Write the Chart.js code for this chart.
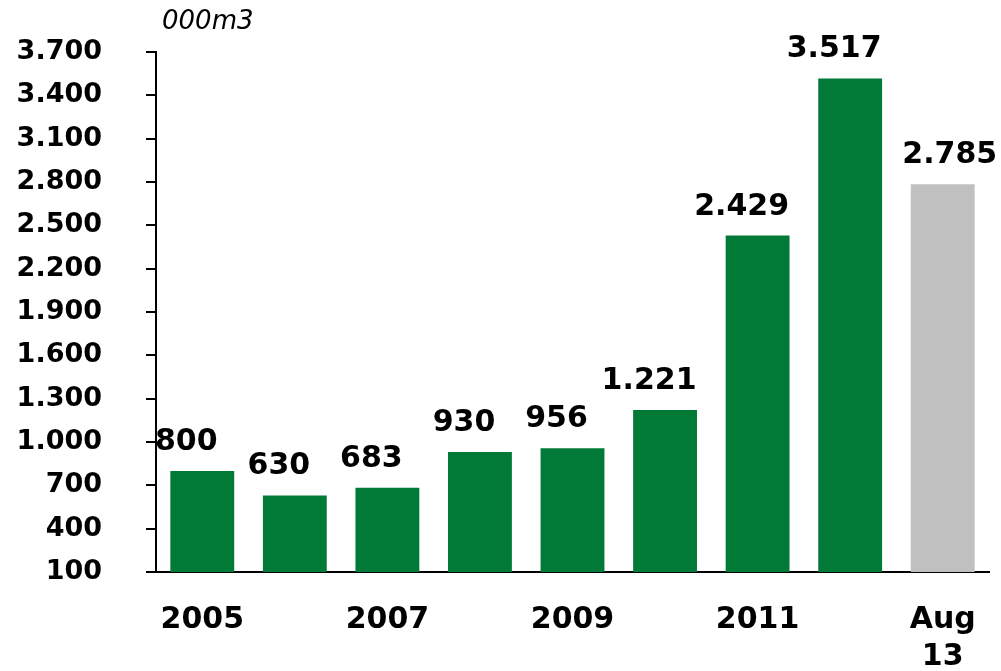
<!DOCTYPE html>
<html>
<head>
<meta charset="utf-8">
<script src="https://cdn.jsdelivr.net/npm/chart.js@4/dist/chart.umd.min.js"></script>
<style>
  html, body { margin: 0; padding: 0; background: #fff; }
  #wrap { width: 1001px; height: 671px; position: relative; }
</style>
</head>
<body>
<div id="wrap"><canvas id="chart"></canvas></div>
<script>
const categories = ['2005', '2006', '2007', '2008', '2009', '2010', '2011', '2012', 'Aug 13'];
const tickLabels = ['2005', '', '2007', '', '2009', '', '2011', '', ['Aug', '13']];
const volumes = [800, 630, 683, 930, 956, 1221, 2429, 3517, 2785];
const unitLabel = '000m3';

const GREEN = '#027a37';
const GREY = '#c0c0c0';
const barColors = categories.map((c, i) => (i === categories.length - 1 ? GREY : GREEN));

const FAMILY = '"DejaVu Sans", sans-serif';
const Y_FONT = { family: FAMILY, size: 27, weight: 'bold' };
const X_FONT = { family: FAMILY, size: 30, weight: 'bold', lineHeight: 1.25 };
const LABEL_SIZE = 30;

function fmt(v) {
  return String(v).replace(/\B(?=(\d{3})+(?!\d))/g, '.');
}

const valueLabels = {
  id: 'valueLabels',
  afterDatasetsDraw(chart) {
    const { ctx } = chart;
    const meta = chart.getDatasetMeta(0);
    const last = meta.data.length - 1;
    ctx.save();
    ctx.font = `bold ${LABEL_SIZE}px ${FAMILY}`;
    ctx.fillStyle = '#000';
    ctx.textAlign = 'center';
    ctx.textBaseline = 'alphabetic';
    meta.data.forEach((bar, i) => {
      const dx = i === last ? 7 : -16;
      ctx.fillText(fmt(volumes[i]), bar.x + dx, bar.y - 21);
    });
    // unit label above the y axis
    const yScale = chart.scales.y;
    ctx.font = `italic 26px ${FAMILY}`;
    ctx.textAlign = 'left';
    ctx.textBaseline = 'middle';
    ctx.fillText(unitLabel, yScale.right + 6, 22);
    ctx.restore();
  },
};

new Chart(document.getElementById('chart').getContext('2d'), {
  type: 'bar',
  data: {
    labels: categories,
    datasets: [{
      data: volumes,
      backgroundColor: barColors,
      borderWidth: 0,
      barPercentage: 0.69,
      categoryPercentage: 1,
    }],
  },
  options: {
    responsive: true,
    maintainAspectRatio: false,
    animation: false,
    layout: { padding: { top: 52, right: 12, left: 16, bottom: 0 } },
    plugins: {
      legend: { display: false },
      tooltip: { enabled: false },
    },
    scales: {
      x: {
        grid: { display: false },
        border: { display: true, color: '#000', width: 2 },
        afterFit: (scale) => { scale.height = 99; },
        ticks: {
          color: '#000',
          font: X_FONT,
          padding: 21,
          autoSkip: false,
          maxRotation: 0,
          callback: (value, index) => tickLabels[index],
        },
      },
      y: {
        min: 100,
        max: 3700,
        afterFit: (scale) => {
          scale.width = 140;
          scale.paddingTop = 0;
          scale.paddingBottom = 0;
        },
        grid: {
          drawOnChartArea: false,
          drawTicks: true,
          tickLength: 10,
          color: '#000',
          lineWidth: 2,
        },
        border: { display: true, color: '#000', width: 2 },
        ticks: {
          stepSize: 300,
          color: '#000',
          font: Y_FONT,
          padding: 44,
          callback: (value) => fmt(value),
        },
      },
    },
  },
  plugins: [valueLabels],
});
</script>
</body>
</html>
